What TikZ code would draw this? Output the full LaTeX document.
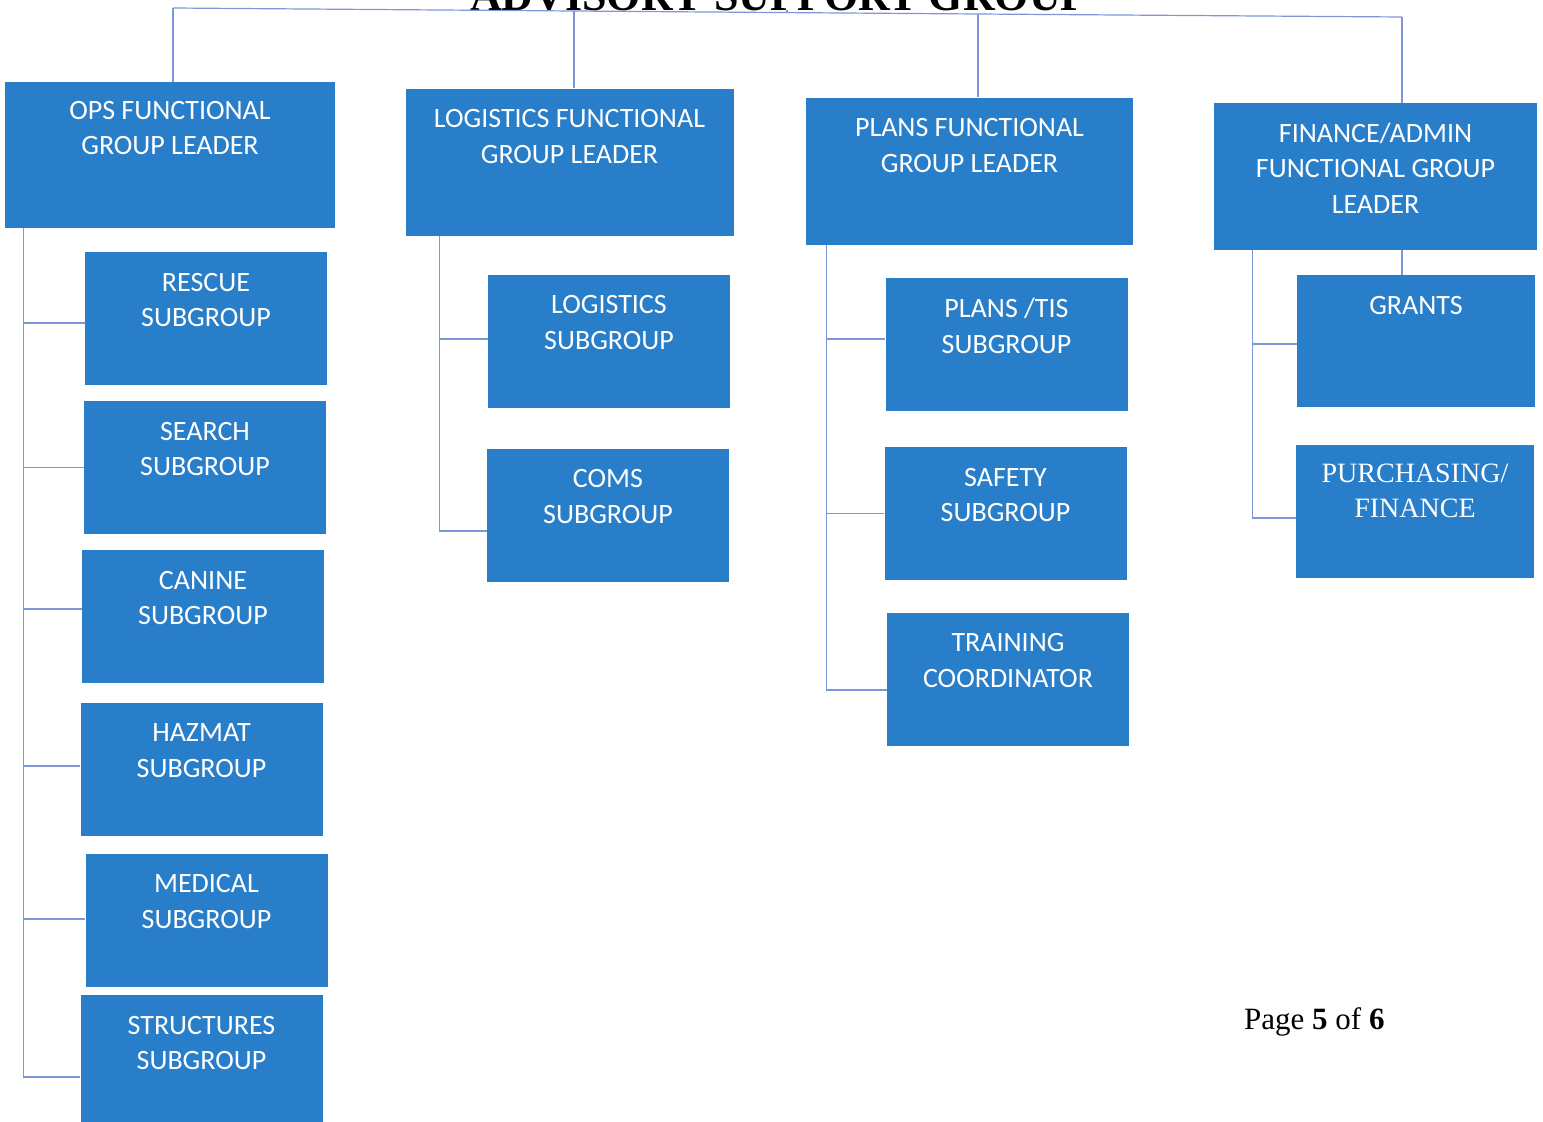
\documentclass[tikz,border=0pt]{standalone}
\usepackage{fontspec}
\setmainfont{Carlito}
\newfontfamily\timesfont{Liberation Serif}
\definecolor{box_blue}{RGB}{41,126,201}
\definecolor{line_blue}{RGB}{125,150,215}
\begin{document}
\begin{tikzpicture}[x=1pt,y=-1pt]
		\useasboundingbox (0,0) rectangle (1543,1122);
		\tikzstyle box_text=[text=white, align=center, anchor=north, inner sep=0pt, font=\fontsize{28}{35.5}\selectfont];
		\tikzstyle lead_box=[fill=box_blue, minimum width=328pt, minimum height=147pt, inner sep=0pt];
		\tikzstyle sub_box=[fill=box_blue, minimum width=242pt, minimum height=133pt, inner sep=0pt];
		\tikzstyle link_line=[color=line_blue, line width=1.2pt];

		% TITLE (cut off by the page edge)
		\node[anchor=base, inner sep=0pt, font=\timesfont\bfseries\fontsize{44}{44}\selectfont] (title) at (779,10) {ADVISORY SUPPORT GROUP};

		% GROUP LEADERS
		\node[lead_box, minimum width=330pt, minimum height=146pt, label={[box_text,yshift=-19pt]north:OPS FUNCTIONAL\\GROUP LEADER}] (ops) at (170,155) {};
		\node[lead_box, label={[box_text,yshift=-21pt]north:LOGISTICS FUNCTIONAL\\GROUP LEADER}] (logi) at (569.5,162) {};
		\node[lead_box, minimum width=327pt, label={[box_text,yshift=-21pt]north:PLANS FUNCTIONAL\\GROUP LEADER}] (plans) at (969.5,171) {};
		\node[lead_box, minimum width=323pt, label={[box_text,yshift=-20pt]north:FINANCE/ADMIN\\FUNCTIONAL GROUP\\LEADER}] (fin) at (1375.5,176.5) {};

		% OPS SUBGROUPS
		\node[sub_box, label={[box_text,yshift=-21pt]north:RESCUE\\SUBGROUP}] (rescue) at (206,318.5) {};
		\node[sub_box, label={[box_text,yshift=-21pt]north:SEARCH\\SUBGROUP}] (search) at (205,467.5) {};
		\node[sub_box, label={[box_text,yshift=-21pt]north:CANINE\\SUBGROUP}] (canine) at (203,616.5) {};
		\node[sub_box, label={[box_text,yshift=-21pt]north:HAZMAT\\SUBGROUP}] (hazmat) at (201.5,769.5) {};
		\node[sub_box, label={[box_text,yshift=-21pt]north:MEDICAL\\SUBGROUP}] (medical) at (206.5,920) {};
		\node[sub_box, label={[box_text,yshift=-21pt]north:STRUCTURES\\SUBGROUP}] (structures) at (201.5,1061.5) {};

		% LOGISTICS SUBGROUPS
		\node[sub_box, label={[box_text,yshift=-21pt]north:LOGISTICS\\SUBGROUP}] (logi_sub) at (609,341) {};
		\node[sub_box, label={[box_text,yshift=-21pt]north:COMS\\SUBGROUP}] (coms) at (608,515) {};

		% PLANS SUBGROUPS
		\node[sub_box, label={[box_text,yshift=-21pt]north:PLANS /TIS\\SUBGROUP}] (tis) at (1006.5,344) {};
		\node[sub_box, label={[box_text,yshift=-21pt]north:SAFETY\\SUBGROUP}] (safety) at (1005.5,513.5) {};
		\node[sub_box, label={[box_text,yshift=-21pt]north:TRAINING\\COORDINATOR}] (training) at (1008,679) {};

		% FINANCE SUBGROUPS
		\node[sub_box, minimum width=238pt, minimum height=132pt, label={[box_text,yshift=-21pt]north:GRANTS}] (grants) at (1416,341) {};
		\node[sub_box, minimum width=238pt, label={[box_text,yshift=-19pt,font=\timesfont\fontsize{28}{35}\selectfont]north:PURCHASING/\\FINANCE}] (purchasing) at (1415,511.5) {};

		%TOP LINE
		\coordinate (top_ops) at (173,8);
		\coordinate (top_logi) at (574,11);
		\coordinate (top_plans) at (978,14);
		\coordinate (top_fin) at (1402,17);
		\draw[link_line] (top_ops) -- (top_logi) -- (top_plans) -- (top_fin);
		\draw[link_line] (title.base -| 787,0) -- (787,12);
		\foreach \g in {ops,logi,plans,fin}
			\draw[link_line] (top_\g) -- (top_\g |- \g.north);

		%TRUNKS AND BRANCHES
		\path (ops.south west) ++(19,0) coordinate (ops_trunk);
		\foreach \s/\d in {rescue/-4.5,search/0,canine/7.5,hazmat/3.5,medical/1,structures/-15.5}
			\draw[link_line] (ops_trunk) |- ([yshift=\d pt]\s.west);
		\path (logi.south west) ++(34,0) coordinate (logi_trunk);
		\foreach \s/\d in {logi_sub/2,coms/-16}
			\draw[link_line] (logi_trunk) |- ([yshift=\d pt]\s.west);
		\path (plans.south west) ++(21,0) coordinate (plans_trunk);
		\foreach \s/\d in {tis/5,safety/0,training/-11}
			\draw[link_line] (plans_trunk) |- ([yshift=\d pt]\s.west);
		\path (fin.south west) ++(39,0) coordinate (fin_trunk);
		\foreach \s/\d in {grants/-3,purchasing/-6.5}
			\draw[link_line] (fin_trunk) |- ([yshift=\d pt]\s.west);
		\draw[link_line] (top_fin |- fin.south) -- (top_fin |- grants.north);

		% PAGE NUMBER
		\node[anchor=base west, inner sep=0pt, font=\timesfont\fontsize{31}{31}\selectfont] (page) at (1244,1029) {Page \textbf{5} of \textbf{6}};
\end{tikzpicture}
\end{document}
